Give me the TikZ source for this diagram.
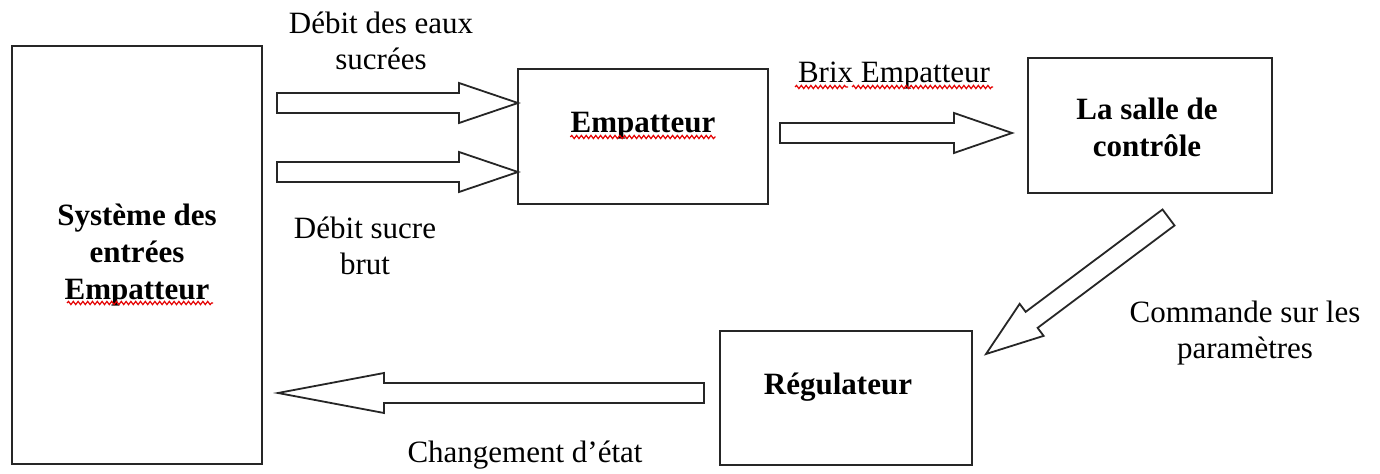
\documentclass[tikz,border=0pt]{standalone}
\usepackage{fontspec}
\setmainfont{Liberation Serif}
\usetikzlibrary{calc,decorations.pathmorphing}
\tikzset{
  box/.style={draw=black!85, line width=1.2pt, rectangle, inner sep=0pt, outer sep=0pt},
  lbl/.style={font=\fontsize{15.5}{18}\selectfont, align=center, inner sep=0pt, text=black},
  blbl/.style={lbl, font=\fontsize{15.5}{18.5}\selectfont\bfseries},
  barrow/.style={draw=black!85, line width=0.9pt, fill=white, line join=miter},
  squig/.style={draw=red!90!black, line width=0.6pt, decorate,
    decoration={snake, amplitude=0.8pt, segment length=2.4pt}}
}
% block arrow from #1 (tail) to #2 (tip), head length #3
\newcommand{\blockarrow}[3]{%
  \coordinate (bah) at ($(#2)!#3!(#1)$);
  \draw[barrow] ($(#1)!5pt!90:(#2)$) -- ($(bah)!5pt!90:(#2)$) -- ($(bah)!10pt!90:(#2)$)
    -- (#2) -- ($(bah)!10pt!-90:(#2)$) -- ($(bah)!5pt!-90:(#2)$) -- ($(#1)!5pt!-90:(#2)$) -- cycle;}
\begin{document}
\begin{tikzpicture}[x=0.5pt, y=-0.5pt]
\useasboundingbox[fill=white] (0,0) rectangle (1380,474);

% boxes
\node[box, minimum width=125pt, minimum height=209pt] (sys) at (137,255) {};
\node[box, minimum width=125pt, minimum height=67.5pt] (emp) at (643,136.5) {};
\node[box, minimum width=122pt, minimum height=67.5pt] (salle) at (1150,125.5) {};
\node[box, minimum width=126pt, minimum height=67pt] (reg) at (846,398) {};

% box texts
\node[blbl] (sysT) at (sys.center) {Système des\\entrées\\Empatteur};
\node[blbl, anchor=base] (empT) at (643,133) {Empatteur};
\node[blbl] (salleT) at (1147,127) {La salle de\\contrôle};
\node[blbl, anchor=base] (regT) at (838,395) {Régulateur};

% connector end points
\coordinate (a1s) at (277,103);
\coordinate (a1e) at (emp.west |- a1s);
\coordinate (a2s) at (277,172);
\coordinate (a2e) at (emp.west |- a2s);
\coordinate (a3s) at (780,133);
\coordinate (a3e) at (1012,133);
\coordinate (a4s) at (1168.5,217.5);
\coordinate (a4e) at (986,354);
\coordinate (a5s) at (704,393);
\coordinate (a5e) at (278,393);

\blockarrow{a1s}{a1e}{29.5pt}
\blockarrow{a2s}{a2e}{29.5pt}
\blockarrow{a3s}{a3e}{29pt}
\blockarrow{a4s}{a4e}{28.5pt}
\blockarrow{a5s}{a5e}{53pt}

% labels
\node[lbl] (l1) at (381,41) {Débit des eaux\\sucrées};
\node[lbl] (l2) at (365,246) {Débit sucre\\brut};
\node[lbl, anchor=base] (l3) at (894,83) {Brix Empatteur};
\node[lbl] (l4) at (1245,333) {Commande sur les\\paramètres};
\node[lbl, anchor=base] (l5) at (525,463) {Changement d’état};

% spell-check underlines
\draw[squig] ([yshift=-2pt]empT.base west) -- ([yshift=-2pt]empT.base east);
\draw[squig] (67,303) -- (213,303);
\draw[squig] (795,87) -- (848,87);
\draw[squig] (852,87) -- (993,87);
\end{tikzpicture}
\end{document}
